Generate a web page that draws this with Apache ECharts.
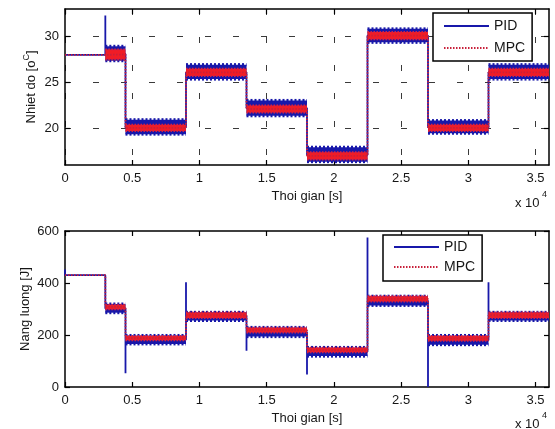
<!DOCTYPE html>
<html>
<head>
<meta charset="utf-8">
<script src="https://cdn.jsdelivr.net/npm/echarts@6/dist/echarts.min.js"></script>
<style>
  html, body { margin: 0; padding: 0; background: #fff; }
  #chart { width: 555px; height: 429px; }
</style>
</head>
<body>
<div id="chart"></div>
<script>
// Segment boundaries of the setpoint schedule (seconds)
const segmentEdges = [0, 3000, 4500, 9000, 13500, 18000, 22500, 27000, 31500, 36000];

// Temperature response, per segment
const tempPidLevel = [28, 28.1, 20.1, 26.1, 22.2, 17.1, 30.1, 20.1, 26.1];
const tempPidLow   = [null, 27.2, 19.2, 25.2, 21.2, 16.2, 29.2, 19.3, 25.2];
const tempPidHigh  = [null, 29.1, 21.1, 27.1, 23.2, 18.1, 31.0, 21.0, 27.1];
const tempMpcLevel = [28, 28.05, 20.05, 26.1, 22.1, 17.0, 30.1, 20.05, 26.1];
const tempMpcLow   = [null, 27.4, 19.6, 25.6, 21.6, 16.5, 29.6, 19.6, 25.6];
const tempMpcHigh  = [null, 28.7, 20.5, 26.6, 22.6, 17.5, 30.6, 20.5, 26.6];
const tempPidSpikeTimes  = [3000];
const tempPidSpikeValues = [32.3];

// Energy, per segment
const energyPidLevel = [430, 302, 182, 272, 212, 136, 332, 180, 272];
const energyPidLow   = [null, 280, 160, 250, 188, 113, 308, 157, 250];
const energyPidHigh  = [null, 325, 204, 293, 235, 158, 355, 204, 293];
const energyMpcLevel = [430, 308, 188, 276, 219, 142, 339, 187, 276];
const energyMpcLow   = [null, 295, 176, 262, 206, 130, 325, 174, 262];
const energyMpcHigh  = [null, 320, 200, 290, 232, 155, 353, 200, 290];
const energyPidSpikeTimes  = [0, 4500, 9000, 13500, 18000, 22500, 27000, 31500];
const energyPidSpikeValues = [452, 53, 403, 139, 48, 575, 0, 403];

// Axis ticks
const timeTicks   = [0, 5000, 10000, 15000, 20000, 25000, 30000, 35000];
const tempTicks   = [20, 25, 30];
const energyTicks = [0, 200, 400, 600];

const FONT = 'Liberation Sans, Arial, Helvetica, sans-serif';
const TXT = '#161616';
const BLUE = '#1818aa';
const RED = '#f01c26';
const MPC_LINE = '#c8203a';

function buildPath(edges, levels, spikeTimes, spikeValues) {
  const pts = [];
  for (let i = 0; i < levels.length; i++) {
    const t0 = edges[i], t1 = edges[i + 1];
    const k = spikeTimes.indexOf(t0);
    if (k >= 0) pts.push([t0, spikeValues[k]]);
    pts.push([t0, levels[i]]);
    pts.push([t1, levels[i]]);
  }
  return pts;
}

function buildBands(edges, lows, highs) {
  const out = [];
  for (let i = 0; i < lows.length; i++) {
    if (lows[i] != null) out.push([edges[i], edges[i + 1], lows[i], highs[i]]);
  }
  return out;
}

// Oscillation envelope: filled band with serrated top/bottom edges
function bandRenderer(fill, toothColor, toothWidth, dash) {
  return function (params, api) {
    const a = api.coord([api.value(0), api.value(3)]);
    const b = api.coord([api.value(1), api.value(2)]);
    const h = toothWidth / 2;
    const x0 = a[0], x1 = b[0];
    const yTop = a[1] + h, yBot = b[1] - h;
    return {
      type: 'group',
      children: [
        { type: 'rect', shape: { x: x0, y: yTop, width: x1 - x0, height: Math.max(0, yBot - yTop) }, style: { fill: fill } },
        { type: 'line', shape: { x1: x0, y1: yTop, x2: x1, y2: yTop }, style: { stroke: toothColor, lineWidth: toothWidth, lineDash: dash } },
        { type: 'line', shape: { x1: x0, y1: yBot, x2: x1, y2: yBot }, style: { stroke: toothColor, lineWidth: toothWidth, lineDash: dash } }
      ]
    };
  };
}

function timeAxis(gridIndex, withLabels, withGrid) {
  return {
    type: 'value', gridIndex: gridIndex, position: withLabels ? 'bottom' : 'top',
    min: 0, max: 36000,
    name: withLabels ? 'Thoi gian [s]' : '',
    nameLocation: 'middle', nameGap: 25,
    nameTextStyle: { fontFamily: FONT, fontSize: 13, color: TXT },
    axisLine: { show: true, onZero: false, lineStyle: { color: '#000', width: 1.5 } },
    axisTick: { show: true, inside: true, length: 5, customValues: timeTicks, lineStyle: { color: '#000', width: 1.2 } },
    axisLabel: {
      show: withLabels, customValues: timeTicks, margin: 7,
      fontFamily: FONT, fontSize: 13, color: TXT,
      formatter: v => String(v / 10000)
    },
    splitLine: { show: withGrid, lineStyle: { color: '#3a3a3a', width: 1, type: [6, 22] } }
  };
}

function valueAxis(gridIndex, left, min, max, ticks, name, nameGap, withGrid) {
  return {
    type: 'value', gridIndex: gridIndex, position: left ? 'left' : 'right',
    min: min, max: max,
    name: left ? name : '',
    nameLocation: 'middle', nameGap: nameGap, nameMoveOverlap: false,
    nameTextStyle: {
      fontFamily: FONT, fontSize: 13, color: TXT,
      rich: { sup: { fontFamily: FONT, fontSize: 9, color: TXT, padding: [0, 0, 9, 0] } }
    },
    axisLine: { show: true, onZero: false, lineStyle: { color: '#000', width: 1.5 } },
    axisTick: { show: true, inside: true, length: 5, customValues: ticks, lineStyle: { color: '#000', width: 1.2 } },
    axisLabel: { show: left, customValues: ticks, margin: 6, fontFamily: FONT, fontSize: 13, color: TXT },
    splitLine: { show: withGrid, lineStyle: { color: '#3a3a3a', width: 1, type: [6, 22] } }
  };
}

function seriesFor(xi, yi, pidLevel, pidLow, pidHigh, mpcLevel, mpcLow, mpcHigh, spikeT, spikeV) {
  return [
    {
      name: 'PID', type: 'line', xAxisIndex: xi, yAxisIndex: yi, z: 2,
      data: buildPath(segmentEdges, pidLevel, spikeT, spikeV),
      symbol: 'none', animation: false,
      lineStyle: { color: BLUE, width: 1.8 }, itemStyle: { color: BLUE, opacity: 0 }
    },
    {
      name: 'PID band', type: 'custom', xAxisIndex: xi, yAxisIndex: yi, z: 3,
      data: buildBands(segmentEdges, pidLow, pidHigh),
      encode: { x: [0, 1], y: [2, 3] }, animation: false, clip: true,
      renderItem: bandRenderer(BLUE, BLUE, 3, [2, 2])
    },
    {
      name: 'MPC band', type: 'custom', xAxisIndex: xi, yAxisIndex: yi, z: 4,
      data: buildBands(segmentEdges, mpcLow, mpcHigh),
      encode: { x: [0, 1], y: [2, 3] }, animation: false, clip: true,
      renderItem: bandRenderer(RED, '#d8203e', 2, [1.5, 1.5])
    },
    {
      name: 'MPC', type: 'line', xAxisIndex: xi, yAxisIndex: yi, z: 5,
      data: buildPath(segmentEdges, mpcLevel, [], []),
      symbol: 'none', animation: false,
      lineStyle: { color: MPC_LINE, width: 1.8, type: [1.5, 1.5] }, itemStyle: { color: MPC_LINE, opacity: 0 }
    }
  ];
}

function legendAt(left, top, gap, padding) {
  return {
    left: left, top: top, orient: 'vertical',
    data: ['PID', 'MPC'], selectedMode: false,
    itemWidth: 45, itemHeight: 14, itemGap: gap, itemTextGap: 5,
    itemStyle: { opacity: 0 },
    lineStyle: { width: 2 },
    padding: padding,
    backgroundColor: '#fff', borderColor: '#000', borderWidth: 1.5, borderRadius: 0,
    textStyle: { fontFamily: FONT, fontSize: 14, color: TXT },
    z: 10
  };
}

const chart = echarts.init(document.getElementById('chart'), null, { renderer: 'canvas' });
chart.setOption({
  animation: false,
  backgroundColor: '#fff',
  grid: [
    { left: 65, right: 6, top: 9, height: 156 },
    { left: 65, right: 6, top: 231, height: 156 }
  ],
  xAxis: [
    timeAxis(0, true, true),
    timeAxis(0, false, false),
    timeAxis(1, true, false),
    timeAxis(1, false, false)
  ],
  yAxis: [
    valueAxis(0, true, 16, 33, tempTicks, 'Nhiet do [o{sup|C}]', 25, true),
    valueAxis(0, false, 16, 33, tempTicks, '', 0, false),
    valueAxis(1, true, 0, 600, energyTicks, 'Nang luong [J]', 33, false),
    valueAxis(1, false, 0, 600, energyTicks, '', 0, false)
  ],
  legend: [
    legendAt(433, 13, 8, [6, 7, 6, 10]),
    legendAt(383, 235, 6, [5, 7, 7, 10])
  ],
  graphic: [
    { type: 'text', left: 515, top: 197, style: { text: 'x 10', font: '13px ' + FONT, fill: TXT } },
    { type: 'text', left: 542, top: 190, style: { text: '4', font: '9px ' + FONT, fill: TXT } },
    { type: 'text', left: 515, top: 418, style: { text: 'x 10', font: '13px ' + FONT, fill: TXT } },
    { type: 'text', left: 542, top: 411, style: { text: '4', font: '9px ' + FONT, fill: TXT } }
  ],
  series: [].concat(
    seriesFor(0, 0, tempPidLevel, tempPidLow, tempPidHigh, tempMpcLevel, tempMpcLow, tempMpcHigh, tempPidSpikeTimes, tempPidSpikeValues),
    seriesFor(2, 2, energyPidLevel, energyPidLow, energyPidHigh, energyMpcLevel, energyMpcLow, energyMpcHigh, energyPidSpikeTimes, energyPidSpikeValues)
  )
});
</script>
</body>
</html>
